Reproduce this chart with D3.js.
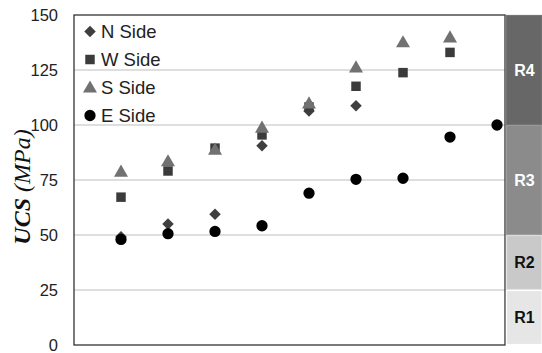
<!DOCTYPE html>
<html>
<head>
<meta charset="utf-8">
<script src="https://cdn.jsdelivr.net/npm/d3@7"></script>
<style>
  html, body { margin: 0; padding: 0; background: #fff; }
  svg { display: block; }
</style>
</head>
<body>
<svg id="chart" width="542" height="353"></svg>
<script>
// Sample positions along the face and UCS values for each side
const positions = [1, 2, 3, 4, 5, 6, 7, 8, 9];
const nSide = [49.2, 55, 59.4, 90.6, 106.4, 108.8, null, null, null];
const wSide = [67.2, 79.1, 89.5, 95.5, 108.2, 117.6, 123.8, 133, null];
const sSide = [78.8, 83.5, 88.8, 98.8, 109.8, 126.2, 137.6, 139.8, null];
const eSide = [48, 50.6, 51.6, 54.2, 69, 75.3, 75.8, 94.5, 100];

const yTicks = [0, 25, 50, 75, 100, 125, 150];

// Rock strength classes shown as a band beside the plot
const classNames = ["R1", "R2", "R3", "R4"];
const classLow = [0, 25, 50, 100];
const classHigh = [25, 50, 100, 150];

const series = [
  { name: "N Side", values: nSide, shape: "diamond", color: "#3f3f3f" },
  { name: "W Side", values: wSide, shape: "square", color: "#3b3b3b" },
  { name: "S Side", values: sSide, shape: "triangle", color: "#717171" },
  { name: "E Side", values: eSide, shape: "circle", color: "#000000" }
];

const classFill = ["#e6e6e6", "#c9c9c9", "#8b8b8b", "#676767"];
const classText = ["#111", "#111", "#fff", "#fff"];

const svg = d3.select("#chart");
const plot = { left: 74, right: 505, top: 15, bottom: 345 };

const x = d3.scaleLinear().domain([0, 9.17]).range([plot.left, plot.right]);
const y = d3.scaleLinear().domain([0, 150]).range([plot.bottom, plot.top]);

// Horizontal gridlines
svg.append("g")
  .selectAll("line")
  .data(yTicks.filter(t => t > 0 && t < 150))
  .join("line")
  .attr("x1", plot.left).attr("x2", plot.right)
  .attr("y1", d => y(d)).attr("y2", d => y(d))
  .attr("stroke", "#bdbdbd").attr("stroke-width", 1);

// Y axis tick labels
const yAxis = d3.axisLeft(y).tickValues(yTicks).tickSize(0).tickPadding(16);
const yg = svg.append("g").attr("transform", `translate(${plot.left},0)`).call(yAxis);
yg.select(".domain").remove();
yg.selectAll("text")
  .attr("font-family", "Arial, 'Liberation Sans', sans-serif")
  .attr("font-size", 16.5)
  .attr("fill", "#222");

// Plot frame
svg.append("rect")
  .attr("x", plot.left).attr("y", plot.top)
  .attr("width", plot.right - plot.left).attr("height", plot.bottom - plot.top)
  .attr("fill", "none").attr("stroke", "#333").attr("stroke-width", 1.3);

// Strength class band
const band = svg.append("g");
classNames.forEach((c, i) => {
  const top = y(classHigh[i]), bot = y(classLow[i]);
  band.append("rect")
    .attr("x", plot.right + 1.5).attr("y", top + 0.5)
    .attr("width", 542 - plot.right - 1.5).attr("height", bot - top - 1)
    .attr("fill", classFill[i])
    .attr("stroke", d3.color(classFill[i]).brighter(0.35))
    .attr("stroke-width", 1.2);
  band.append("text")
    .attr("x", (plot.right + 542) / 2 + 1)
    .attr("y", (top + bot) / 2)
    .attr("dy", "0.36em")
    .attr("text-anchor", "middle")
    .attr("font-family", "Arial, 'Liberation Sans', sans-serif")
    .attr("font-weight", "bold")
    .attr("font-size", 16)
    .attr("fill", classText[i])
    .text(c);
});

// Marker shapes (the diamond is a square turned 45 degrees)
const symbolFor = {
  diamond: d3.symbol().type(d3.symbolSquare).size(66),
  square: d3.symbol().type(d3.symbolSquare).size(90),
  triangle: d3.symbol().type(d3.symbolTriangle).size(85),
  circle: d3.symbol().type(d3.symbolCircle).size(100)
};
const markerTransform = (shape, px, py) =>
  shape === "diamond" ? `translate(${px},${py}) rotate(45)`
  : shape === "triangle" ? `translate(${px},${py + 1})`
  : `translate(${px},${py})`;

series.forEach(s => {
  svg.append("g")
    .selectAll("path")
    .data(positions.map((p, i) => ({ p, v: s.values[i] })).filter(d => d.v != null))
    .join("path")
    .attr("d", symbolFor[s.shape]())
    .attr("transform", d => markerTransform(s.shape, x(d.p), y(d.v)))
    .attr("fill", s.color);
});

// Legend
const legend = svg.append("g");
series.forEach((s, i) => {
  const ly = 31.5 + i * 28;
  legend.append("path")
    .attr("d", symbolFor[s.shape]())
    .attr("transform", markerTransform(s.shape, 90, ly))
    .attr("fill", s.color);
  legend.append("text")
    .attr("x", 101).attr("y", ly).attr("dy", "0.36em")
    .attr("font-family", "Arial, 'Liberation Sans', sans-serif")
    .attr("font-size", 18.5)
    .attr("fill", "#222")
    .text(s.name);
});

// Y axis title
const title = svg.append("text")
  .attr("transform", `translate(30,187) rotate(-90)`)
  .attr("text-anchor", "middle")
  .attr("font-family", "'Liberation Serif', 'Times New Roman', serif")
  .attr("font-style", "italic")
  .attr("font-size", 24)
  .attr("fill", "#111");
title.append("tspan").attr("font-weight", "bold").text("UCS");
title.append("tspan").text(" (MPa)");
</script>
</body>
</html>
